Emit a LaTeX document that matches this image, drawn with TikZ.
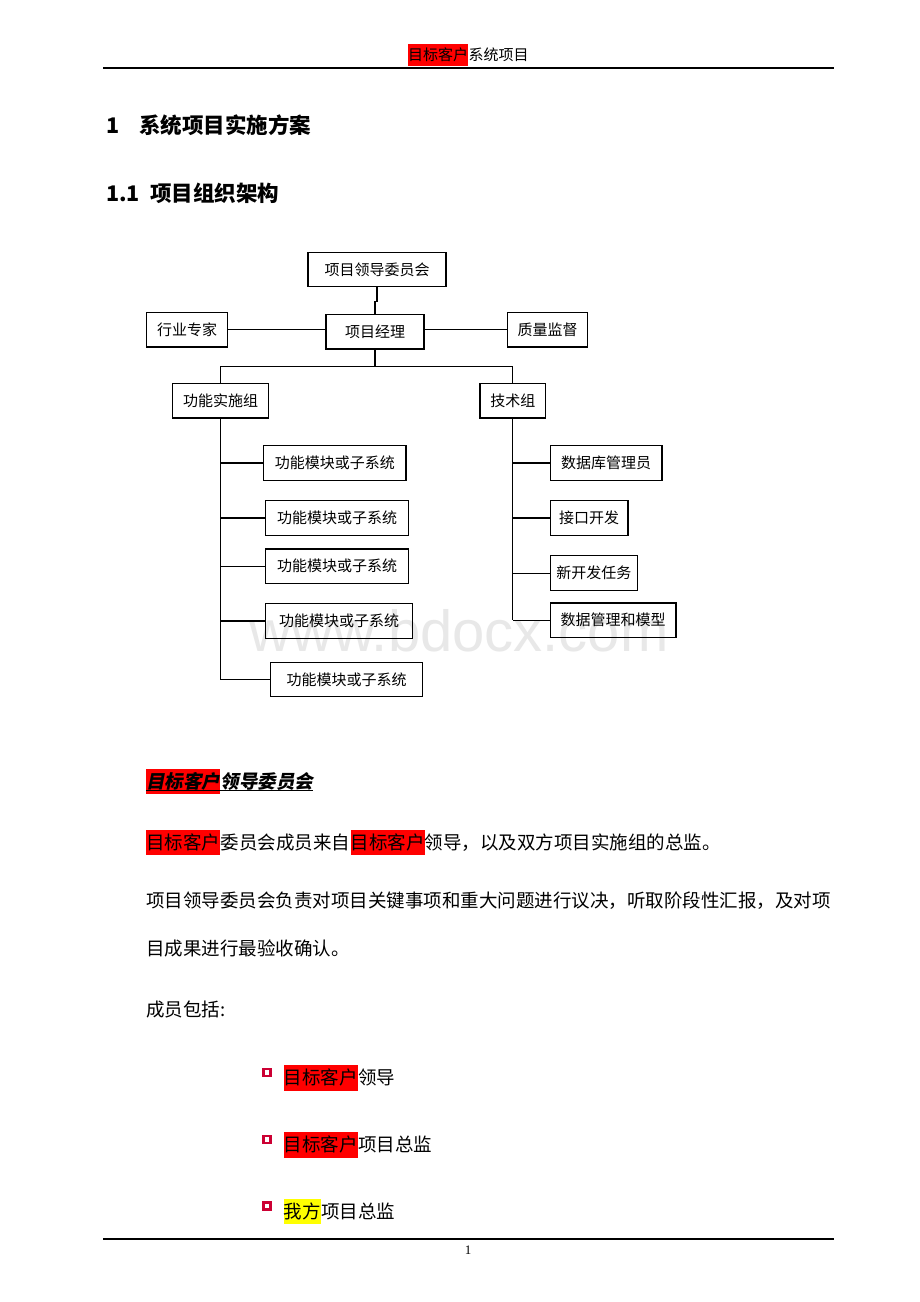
\documentclass[tikz,border=0pt]{standalone}
\usepackage{fontspec}
\setmainfont{Liberation Serif}
\newfontfamily\cjk{Noto Sans CJK SC}
\newfontfamily\cjksl{Noto Sans CJK SC}[FakeSlant=0.2]
\newfontfamily\wmfont{Liberation Sans}
\definecolor{hlred}{RGB}{255,0,0}
\definecolor{hlyellow}{RGB}{255,255,0}
\definecolor{bulletred}{RGB}{204,0,51}
\definecolor{wmgray}{RGB}{232,232,232}
\begin{document}
\begin{tikzpicture}[x=1pt,y=-1pt,
  box/.style={draw, line width=1.2pt, inner sep=0pt, minimum height=34.4pt,
    font=\cjk\fontsize{15}{18}\selectfont},
  conn/.style={line width=1.2pt},
  body/.style={anchor=base west, inner sep=0pt, font=\cjk\fontsize{18.5}{22}\selectfont},
  hl/.style={body, fill=#1, text height=19.75pt, text depth=5.75pt},
  head/.style={anchor=base west, inner sep=0pt, font=\cjk\bfseries\fontsize{21.5}{25}\selectfont},
  bul/.style={draw=bulletred, fill=white, line width=2.3pt, minimum size=7pt, inner sep=0pt},
  rule/.style={line width=1.3pt}]
\useasboundingbox (0,0) rectangle (920,1302);
\fill[white] (0,0) rectangle (920,1302);

% watermark
\node[anchor=base, inner sep=0pt, text=wmgray, font=\wmfont\fontsize{58}{60}\selectfont] (wm) at (459,651.5) {www.bdocx.com};

% page header
\node[anchor=base west, inner sep=0pt, fill=hlred, text height=16.7pt, text depth=5.3pt,
  font=\cjk\fontsize{15}{18}\selectfont] (hdA) at (408,60.7) {目标客户};
\node[anchor=base west, inner sep=0pt, font=\cjk\fontsize{15}{18}\selectfont] (hdB) at (hdA.base east) {系统项目};
\draw[rule] (103,68) -- (834,68);

% headings
\node[head] (h1n) at (106,133.2) {1};
\node[head] (h1t) at (139,133.2) {系统项目实施方案};
\node[head] (h2n) at (106,201.2) {1.1};
\node[head] (h2t) at (150,201.2) {项目组织架构};

% org chart
\node[box, minimum width=138pt] (lead) at (377,269.5) {项目领导委员会};
\node[box, minimum width=98pt] (pm) at (375,331.8) {项目经理};
\node[box, minimum width=80.6pt] (expert) at (187,329.7) {行业专家};
\node[box, minimum width=80pt] (quality) at (547.7,329.7) {质量监督};
\node[box, minimum width=96.4pt] (func) at (220.5,400.8) {功能实施组};
\node[box, minimum width=65.7pt] (tech) at (512.8,400.8) {技术组};

\node[box, minimum width=142.3pt] (s1) at (334.9,462.9) {功能模块或子系统};
\node[box, minimum width=142.6pt] (s2) at (337,517.9) {功能模块或子系统};
\node[box, minimum width=142.6pt] (s3) at (337,566.2) {功能模块或子系统};
\node[box, minimum width=147pt] (s4) at (339.2,621) {功能模块或子系统};
\node[box, minimum width=152.4pt] (s5) at (346.5,679.5) {功能模块或子系统};

\node[box, minimum width=111.7pt] (t1) at (606.2,462.9) {数据库管理员};
\node[box, minimum width=77.7pt] (t2) at (589.2,517.9) {接口开发};
\node[box, minimum width=87pt, minimum height=35pt] (t3) at (593.8,573.2) {新开发任务};
\node[box, minimum width=125.7pt] (t4) at (613.2,620.2) {数据管理和模型};

\coordinate (bar) at (375,366.3);
\draw[conn] (lead.south) -- ++(0,14) -| (pm.north);
\draw[conn] (expert.east) -- (expert.east -| pm.west);
\draw[conn] (quality.west) -- (quality.west -| pm.east);
\draw[conn] (pm.south) -- (bar);
\draw[conn] (func.north) |- (bar) -| (tech.north);
\draw[conn] (func.south) -- (func.south |- s5.west);
\foreach \i in {1,...,5} \draw[conn] (s\i.west) -- (s\i.west -| func.south);
\draw[conn] (tech.south) -- (tech.south |- t4.west);
\foreach \i in {1,...,4} \draw[conn] (t\i.west) -- (t\i.west -| tech.south);

% committee heading
\node[hl=hlred, font=\cjksl\bfseries\fontsize{18.5}{22}\selectfont] (c1a) at (146,788.3) {目标客户};
\node[body, font=\cjksl\bfseries\fontsize{18.5}{22}\selectfont] (c1b) at (c1a.base east) {领导委员会};
\draw[line width=1.1pt] (146,790.7) -- (c1b.base east |- 0,790.7);

% paragraph lines
\node[hl=hlred] (p1a) at (146,849.5) {目标客户};
\node[body] (p1b) at (p1a.base east) {委员会成员来自};
\node[hl=hlred] (p1c) at (p1b.base east) {目标客户};
\node[body] (p1d) at (p1c.base east) {领导，以及双方项目实施组的总监。};

\node[body] (p2) at (146,907) {项目领导委员会负责对项目关键事项和重大问题进行议决，听取阶段性汇报，及对项};
\node[body] (p3) at (146,955.5) {目成果进行最验收确认。};
\node[body] (p4) at (146,1016) {成员包括:};

% bullets
\node[bul] (b1) at (267,1072.7) {};
\node[hl=hlred] (b1a) at (283.7,1084.8) {目标客户};
\node[body] (b1b) at (b1a.base east) {领导};

\node[bul] (b2) at (267,1139.3) {};
\node[hl=hlred] (b2a) at (283.7,1151.8) {目标客户};
\node[body] (b2b) at (b2a.base east) {项目总监};

\node[bul] (b3) at (267,1206) {};
\node[hl=hlyellow] (b3a) at (283.7,1218.5) {我方};
\node[body] (b3b) at (b3a.base east) {项目总监};

% footer
\draw[rule] (103,1239) -- (834,1239);
\node[inner sep=0pt, font=\fontsize{13}{15}\selectfont] (pg) at (468,1250) {1};
\end{tikzpicture}
\end{document}
